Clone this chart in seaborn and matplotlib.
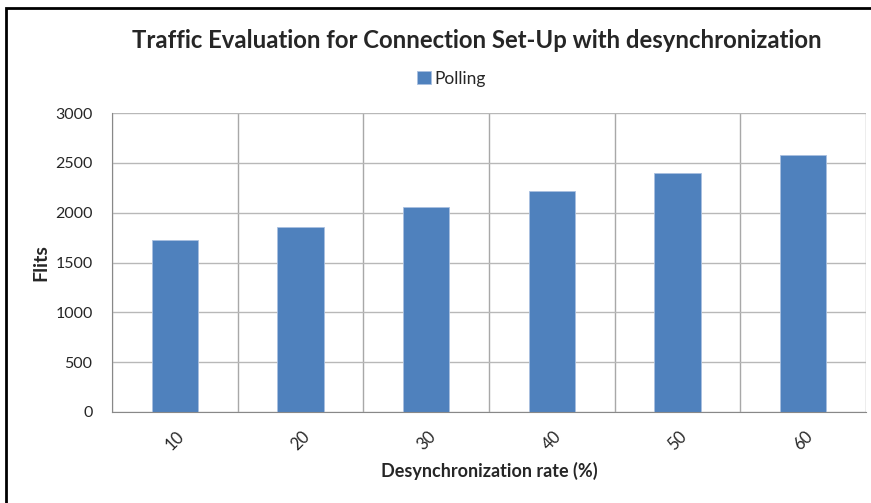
import numpy as np
import pandas as pd
import seaborn as sns
from matplotlib import pyplot as plt
from matplotlib.patches import Rectangle

# data
rates = ['10', '20', '30', '40', '50', '60']
polling = [1725, 1860, 2053, 2217, 2404, 2578]

df = pd.DataFrame({'rate': rates, 'flits': polling})

sns.set_style('white')
plt.rcParams['font.family'] = ['Lato', 'DejaVu Sans']

fig = plt.figure(figsize=(8.71, 5.03), dpi=100)
ax = fig.add_axes([0.1286, 0.181, 0.8657, 0.594])

sns.barplot(data=df, x='rate', y='flits', color='#4f81bd', saturation=1, width=0.37,
            edgecolor='#a9c0e0', linewidth=0.6, label='Polling', ax=ax)

ax.set_ylim(0, 3000)
ax.set_xlim(-0.5, len(rates) - 0.5)
ax.set_yticks(np.arange(0, 3001, 500))
ax.set_xticks(np.arange(-0.5, len(rates), 1), minor=True)
ax.set_axisbelow(True)
ax.grid(axis='y', which='major', color='#b8b8b8', linewidth=1)
ax.grid(axis='x', which='minor', color='#a8a8a8', linewidth=1)
ax.tick_params(axis='x', which='both', length=0, labelsize=12, pad=12)
ax.tick_params(axis='y', length=0, labelsize=11.5, pad=14)
for lbl in ax.get_xticklabels():
    lbl.set_rotation(45)
for s in ['top', 'right']:
    ax.spines[s].set_visible(False)
for s in ['left', 'bottom']:
    ax.spines[s].set_color('#888888')

ax.set_xlabel('Desynchronization rate (%)', fontsize=13, fontweight='bold', labelpad=6)
ax.set_ylabel('Flits', fontsize=14, fontweight='bold', labelpad=4)

fig.suptitle('Traffic Evaluation for Connection Set-Up with desynchronization',
             x=0.547, y=0.943, fontsize=17.2, fontweight='bold')
ax.legend(loc='center', bbox_to_anchor=(0.45, 1.115), frameon=False,
          fontsize=12.5, handlelength=0.8, handleheight=0.8, handletextpad=0.2)

fig.patches.append(Rectangle((0.007, -0.01), 1.2, 0.995, transform=fig.transFigure,
                             fill=False, edgecolor='black', linewidth=2))

fig.savefig('out.png', dpi=100)
